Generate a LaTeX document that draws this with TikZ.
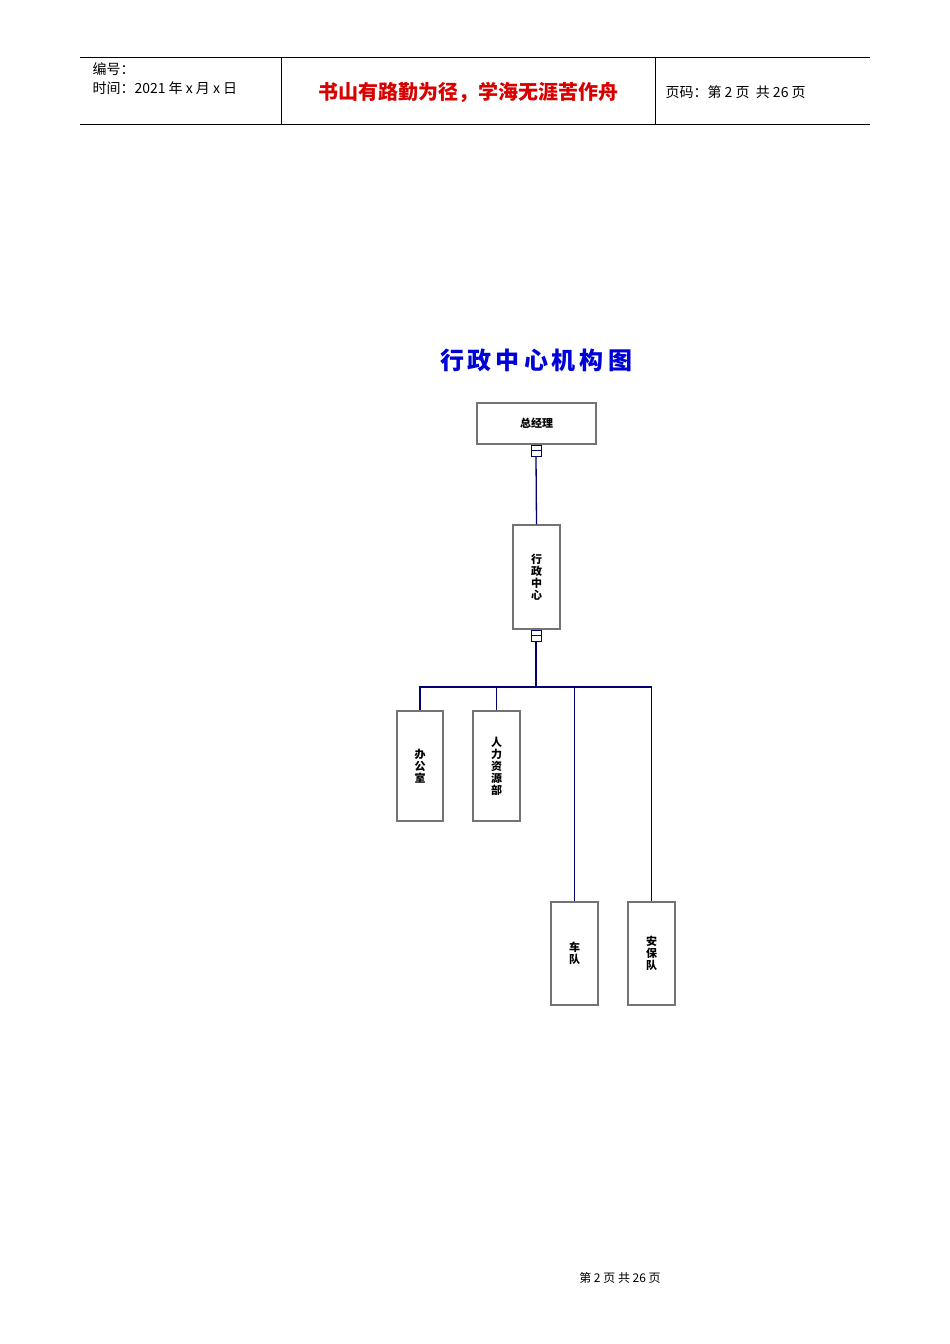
\documentclass[tikz,border=0pt]{standalone}
\usepackage{fontspec}
\setmainfont{Liberation Sans}
\newfontfamily\cjk{Noto Sans CJK SC}
\begin{document}
\begin{tikzpicture}[x=1pt,y=-1pt,
  box/.style={draw=black!55,line width=1.2pt,minimum width=#1,inner sep=0pt,font=\cjk\fontsize{11}{12}\selectfont\bfseries,align=center},
  link/.style={draw=blue!45!black,line width=1.3pt},
  port/.style={draw=blue!45!black,line width=1pt,minimum width=10pt,minimum height=11pt,inner sep=0pt}]
\useasboundingbox[fill=white] (0,0) rectangle (950,1344);
% header
\draw[line width=0.6pt] (80,57) -- (870,57) (80,124) -- (870,124) (281,57) -- (281,124) (655,57) -- (655,124);
\node[anchor=west,font=\cjk\fontsize{14}{16}\selectfont] (h1) at (89,69) {编号：};
\node[anchor=west,font=\cjk\fontsize{14}{16}\selectfont] (h2) at (89,88) {时间：2021 年 x 月 x 日};
\node[font=\cjk\fontsize{20}{22}\selectfont\bfseries,text=red!85!black] (h3) at (468,92) {书山有路勤为径，学海无涯苦作舟};
\node[anchor=west,font=\cjk\fontsize{14}{16}\selectfont] (h4) at (662,92) {页码：第 2 页\ \ 共 26 页};
\node[font=\cjk\fontsize{12}{14}\selectfont] (ft) at (620,1278) {第\ 2\ 页\ 共\ 26\ 页};
% chart
\node[font=\cjk\fontsize{24}{26}\selectfont\bfseries,text=blue!85!black] (t) at (536,360) {行\,政\,中\,心\,机\,构\,图};
\node[box=119pt,minimum height=41pt] (gm) at (536.5,423.5) {总经理};
\node[port] (p1) at (536,450.5) {};
\draw[port] (531,450.5) -- (541,450.5);
\node[box=47pt,minimum height=104pt] (xz) at (536.5,577) {行\\政\\中\\心};
\node[port] (p2) at (536,635.5) {};
\draw[port] (531,635.5) -- (541,635.5);
\draw[link] (p1.south) -- (xz.north);
\coordinate (j) at (536,687);
\draw[link] (p2.south) -- (j);
\node[box=46pt,minimum height=110pt] (b1) at (420,766) {办\\公\\室};
\node[box=47pt,minimum height=110pt] (b2) at (496.5,766) {人\\力\\资\\源\\部};
\node[box=47pt,minimum height=103pt] (b3) at (574.5,953.5) {车\\队};
\node[box=47pt,minimum height=103pt] (b4) at (651.5,953.5) {安\\保\\队};
\draw[link] (b1.north) |- (b4.north |- j) -- (b4.north);
\draw[link] (b2.north) -- (b2.north |- j);
\draw[link] (b3.north) -- (b3.north |- j);
\end{tikzpicture}
\end{document}
